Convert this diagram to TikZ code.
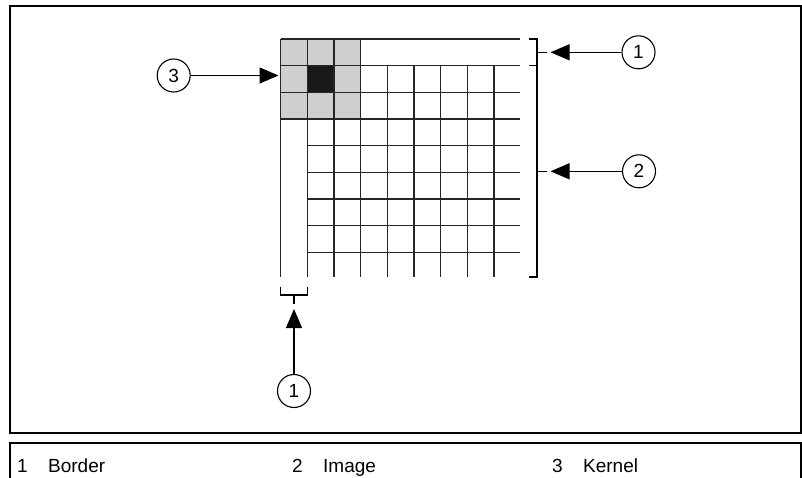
\documentclass[tikz,border=0pt]{standalone}
\usepackage{fontspec}
\setmainfont{Liberation Sans}
\usetikzlibrary{positioning,arrows.meta}

\begin{document}
\begin{tikzpicture}[x=1pt, y=-1pt,
  every node/.style={font=\fontsize{19}{22}\selectfont},
  callout/.style={draw, circle, line width=1.1pt, minimum size=33pt, inner sep=0pt},
  leg/.style={inner sep=0pt},
  cell/.style={line width=1.2pt, draw=black!85},
  brk/.style={line width=1.2pt},
  ptr/.style={-{Triangle[length=19pt, width=16pt]}, line width=1.1pt},
  frm/.style={line width=2pt}]

\useasboundingbox (0,0) rectangle (802,478);

% frames
\draw[frm] (10,6) rectangle (800.5,433);
\draw[frm] (10,482) -- (10,443) -- (800.5,443) -- (800.5,482);

% kernel
\fill[black!19] (280.7,39) rectangle (360.7,119);
\fill[black!90] (307.3,65.7) rectangle (334,92.3);

% grid: border row and column, then image
\foreach \r in {0,...,3}
  \draw[cell] (280.7,39+\r*26.67) -- (520,39+\r*26.67);
\foreach \r in {4,...,8}
  \draw[cell] (307.3,39+\r*26.67) -- (520,39+\r*26.67);
\foreach \c in {0,...,3}
  \draw[cell] (280.7+\c*26.67,39) -- (280.7+\c*26.67,277);
\foreach \c in {4,...,8}
  \draw[cell] (280.7+\c*26.67,65.7) -- (280.7+\c*26.67,277);

% brackets
\draw[brk] (529,39) -- (537,39) -- (537,65.7) -- (529,65.7);
\draw[brk] (537,65.7) -- (537,277) -- (529,277);
\draw[brk] (537,52.3) -- (546.5,52.3) coordinate (top);
\draw[brk] (537,171.3) -- (546.5,171.3) coordinate (img);
\draw[brk] (280.7,286.5) -- (280.7,295) -- (307.3,295) -- (307.3,286.5);
\draw[brk] (294,295) -- (294,303.5) coordinate (left);
\coordinate (kern) at (278.5,75.5);

% callouts
\node[callout] (c1) at (638.5,52.3) {1};
\node[callout] (c2) at (639,171.3) {2};
\node[callout] (c3) at (173.7,75.5) {3};
\node[callout] (c4) at (294,391) {1};

\draw[ptr, shorten >=4pt] (c1) -- (top);
\draw[ptr, shorten >=4pt] (c2) -- (img);
\draw[ptr] (c3) -- (kern);
\draw[ptr, shorten >=5.5pt] (c4) -- (left);

% legend
\node[leg, anchor=base west] (n1) at (17,472) {1};
\node[leg, base right=20pt of n1] (t1) {Border};
\node[leg, anchor=base west] (n2) at (292,472) {2};
\node[leg, base right=20pt of n2] (t2) {Image};
\node[leg, anchor=base west] (n3) at (552,472) {3};
\node[leg, base right=20pt of n3] (t3) {Kernel};
\end{tikzpicture}
\end{document}
